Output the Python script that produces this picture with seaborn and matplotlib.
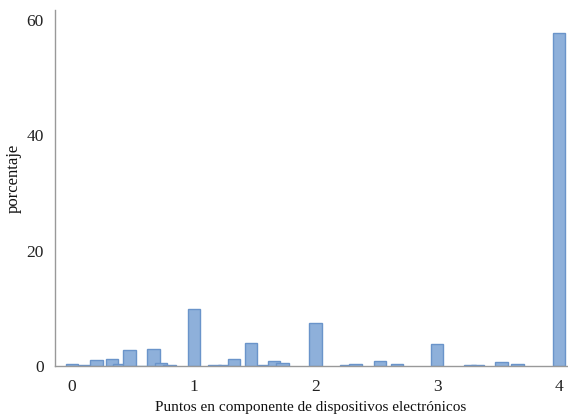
import numpy as np
import pandas as pd
import matplotlib
matplotlib.use("Agg")
import matplotlib.pyplot as plt
import seaborn as sns

# Data
puntos = [0.00, 0.11, 0.20, 0.33, 0.39, 0.47, 0.57, 0.67, 0.73, 0.80,
          1.00, 1.17, 1.25, 1.33, 1.47, 1.58, 1.66, 1.73,
          2.00, 2.25, 2.33, 2.53, 2.67,
          3.00, 3.27, 3.33, 3.53, 3.66, 4.00]
porcentaje = [0.3, 0.1, 1.0, 1.2, 0.3, 2.8, 0.05, 2.9, 0.6, 0.2,
              9.8, 0.1, 0.1, 1.2, 4.0, 0.15, 0.8, 0.6,
              7.5, 0.1, 0.35, 0.9, 0.35,
              3.8, 0.1, 0.1, 0.7, 0.3, 57.7]
xticks = [0, 1, 2, 3, 4]
yticks = [0, 20, 40, 60]

df = pd.DataFrame({"puntos": puntos, "porcentaje": porcentaje})

sns.set_style("white")
plt.rcParams["font.family"] = ["Liberation Serif", "DejaVu Serif"]

fig = plt.figure(figsize=(5.68, 4.15), dpi=100)
ax = fig.add_axes([0.097, 0.118, 0.901, 0.858])

min_gap = np.min(np.diff(np.unique(puntos)))
bar_w = 0.102

sns.barplot(data=df, x="puntos", y="porcentaje", native_scale=True,
            width=bar_w / min_gap, color="#8EB0DA", saturation=1,
            edgecolor="#6A94CA", linewidth=1.0, errorbar=None, ax=ax)

ax.set_xlim(-0.14, 4.066)
ax.set_ylim(0, 61.7)
ax.set_xticks(xticks)
ax.set_xticklabels([str(t) for t in xticks])
ax.set_yticks(yticks)
ax.set_yticklabels([str(t) for t in yticks])
ax.tick_params(axis="both", length=0, labelsize=12.5, colors="#222222")
ax.tick_params(axis="x", pad=9)
ax.tick_params(axis="y", pad=8)

for s in ["top", "right"]:
    ax.spines[s].set_visible(False)
for s in ["left", "bottom"]:
    ax.spines[s].set_color("#999999")
    ax.spines[s].set_linewidth(1.0)

ax.set_xlabel("Puntos en componente de dispositivos electrónicos",
              fontsize=11, color="#111111", labelpad=5)
ax.set_ylabel("porcentaje", fontsize=12, color="#111111")
ax.yaxis.set_label_coords(-0.066, 0.527)
ax.grid(False)

fig.savefig("out.png", dpi=100)
